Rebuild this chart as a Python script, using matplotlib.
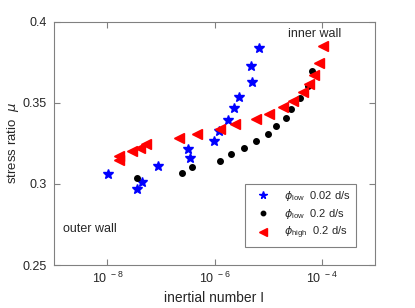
import matplotlib
matplotlib.use("Agg")
import matplotlib.pyplot as plt

# Data
I_low_002 = [6.87e-6, 4.88e-6, 5.02e-6, 2.87e-6, 2.29e-6, 1.81e-6, 1.21e-6, 9.79e-7,
             3.24e-7, 3.48e-7, 8.91e-8, 1.035e-8, 4.36e-8, 3.61e-8]
mu_low_002 = [0.384, 0.373, 0.363, 0.354, 0.347, 0.3395, 0.333, 0.3267,
              0.3213, 0.3162, 0.3113, 0.3064, 0.3012, 0.2967]

I_low_02 = [3.52e-8, 2.50e-7, 3.79e-7, 1.27e-6, 2.03e-6, 3.56e-6, 5.97e-6, 9.86e-6,
            1.43e-5, 2.17e-5, 2.65e-5, 4.02e-5, 5.52e-5, 6.56e-5]
mu_low_02 = [0.3035, 0.307, 0.3105, 0.3142, 0.3183, 0.3225, 0.3265, 0.3309,
             0.3358, 0.3409, 0.3465, 0.3531, 0.3605, 0.3698]

I_high_02 = [1.61e-8, 1.64e-8, 2.81e-8, 4.05e-8, 5.25e-8, 2.14e-7, 4.65e-7, 1.28e-6,
             2.42e-6, 5.83e-6, 1.045e-5, 1.88e-5, 2.93e-5, 4.46e-5, 5.83e-5, 7.33e-5,
             9.10e-5, 1.05e-4]
mu_high_02 = [0.3173, 0.3148, 0.3204, 0.3222, 0.3247, 0.3281, 0.3309, 0.3338,
              0.3369, 0.3399, 0.3434, 0.3473, 0.3514, 0.3566, 0.3615, 0.3673,
              0.3747, 0.3854]

labels = [r"$\phi_{\rm low}$  0.02 d/s", r"$\phi_{\rm low}$  0.2 d/s", r"$\phi_{\rm high}$  0.2 d/s"]
xticks = [1e-8, 1e-6, 1e-4]
xticklabels = [r"$10^{\ -8}$", r"$10^{\ -6}$", r"$10^{\ -4}$"]
yticks = [0.25, 0.3, 0.35, 0.4]
yticklabels = ["0.25", "0.3", "0.35", "0.4"]

plt.rcParams['font.family'] = ['Liberation Sans', 'DejaVu Sans']
plt.rcParams['mathtext.fontset'] = 'custom'
plt.rcParams['mathtext.rm'] = 'Liberation Sans'
plt.rcParams['mathtext.it'] = 'DejaVu Sans:italic'

txt_col = '#262626'
fig = plt.figure(figsize=(4.15, 3.08), dpi=100)
ax = fig.add_axes([0.130, 0.1396, 0.774, 0.789])

ax.plot(I_low_002, mu_low_002, linestyle='none', marker='*', color='blue', markersize=7, label=labels[0])
ax.plot(I_low_02, mu_low_02, linestyle='none', marker='o', color='black', markersize=4, label=labels[1])
ax.plot(I_high_02, mu_high_02, linestyle='none', marker='<', color='red', markersize=7, label=labels[2])

ax.set_xscale('log')
ax.set_xlim(1e-9, 1e-3)
ax.set_ylim(0.25, 0.4)
ax.set_xticks(xticks)
ax.set_xticklabels(xticklabels)
ax.minorticks_off()
ax.set_yticks(yticks)
ax.set_yticklabels(yticklabels)

spine_col = '#808080'
for s in ax.spines.values():
    s.set_color(spine_col)
    s.set_linewidth(0.8)
ax.tick_params(direction='in', top=True, right=True, length=4, width=0.8,
               color=spine_col, labelsize=9, labelcolor=txt_col)
ax.tick_params(axis='y', pad=5)
ax.tick_params(axis='x', pad=4)

ax.set_xlabel("inertial number I", fontsize=10, color=txt_col, labelpad=4)
ax.set_ylabel(r"stress ratio  $\mu$", fontsize=9.5, color=txt_col, labelpad=1)

ax.text(2.4e-5, 0.3925, "inner wall", fontsize=9, color=txt_col, ha='left', va='center')
ax.text(1.45e-9, 0.2725, "outer wall", fontsize=9, color=txt_col, ha='left', va='center')

leg = ax.legend(loc='lower right', bbox_to_anchor=(0.941, 0.074), borderaxespad=0, fontsize=8,
                frameon=True, fancybox=False, edgecolor=spine_col, framealpha=1,
                markerscale=0.8, handletextpad=0.8, borderpad=0.5, labelspacing=0.35,
                handlelength=2.2)
leg.get_frame().set_linewidth(0.8)
for t in leg.get_texts():
    t.set_color(txt_col)

fig.savefig("out.png", dpi=100)
